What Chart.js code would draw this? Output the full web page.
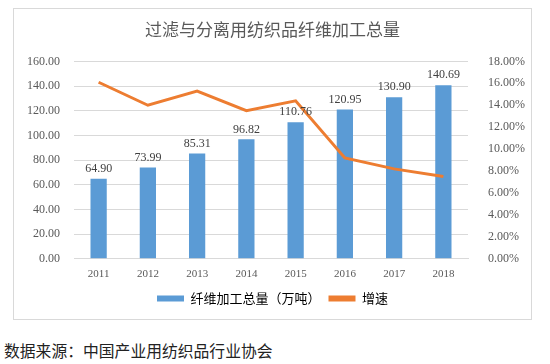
<!DOCTYPE html>
<html>
<head>
<meta charset="utf-8">
<script src="https://cdn.jsdelivr.net/npm/chart.js@4.4.1/dist/chart.umd.min.js"></script>
<style>
  body { margin: 0; background: #fff; width: 550px; height: 364px; position: relative; overflow: hidden; }
  #box { position: absolute; left: 13px; top: 8px; width: 517px; height: 310px; border: 1px solid #d9d9d9; }
  #source { position: absolute; left: 4px; top: 339px; font: 15.8px "Noto Sans CJK SC", sans-serif; color: #222; }
</style>
</head>
<body>
<div id="box"><canvas id="chart" width="517" height="310"></canvas></div>
<div id="source">数据来源：中国产业用纺织品行业协会</div>
<script>
// chart data
const years = ["2011", "2012", "2013", "2014", "2015", "2016", "2017", "2018"];
const volume = [64.90, 73.99, 85.31, 96.82, 110.76, 120.95, 130.90, 140.69];
const growth = [16.1, 14.0, 15.3, 13.5, 14.4, 9.2, 8.2, 7.5];

const serif = "'Liberation Serif', 'Times New Roman', serif";
const cjk = "'Noto Sans CJK SC', sans-serif";

// draws the value above each bar
const barLabels = {
  id: "barLabels",
  afterDatasetsDraw(chart) {
    const ctx = chart.ctx;
    const meta = chart.getDatasetMeta(1);
    ctx.save();
    ctx.font = "12px " + serif;
    ctx.fillStyle = "#404040";
    ctx.textAlign = "center";
    ctx.textBaseline = "bottom";
    meta.data.forEach((bar, i) => {
      ctx.fillText(volume[i].toFixed(2), bar.x, bar.y - 4);
    });
    ctx.restore();
  }
};

new Chart(document.getElementById("chart"), {
  data: {
    labels: years,
    datasets: [
      {
        type: "line",
        label: "增速",
        data: growth,
        yAxisID: "y2",
        borderColor: "#ED7D31",
        backgroundColor: "#ED7D31",
        borderWidth: 3,
        pointRadius: 0,
        tension: 0,
        order: 0
      },
      {
        type: "bar",
        label: "纤维加工总量（万吨）",
        data: volume,
        yAxisID: "y",
        backgroundColor: "#5B9BD5",
        categoryPercentage: 1,
        barPercentage: 0.33,
        order: 1
      }
    ]
  },
  options: {
    responsive: false,
    animation: false,
    layout: { padding: { left: 0, right: 0, top: 4, bottom: 4 } },
    plugins: {
      title: {
        display: true,
        text: "过滤与分离用纺织品纤维加工总量",
        color: "#595959",
        font: { family: cjk, size: 17, weight: "normal" },
        padding: { top: 6, bottom: 22 }
      },
      legend: {
        position: "bottom",
        labels: {
          color: "#595959",
          font: { family: cjk, size: 13 },
          boxWidth: 27,
          boxHeight: 6,
          padding: 8,
          generateLabels(chart) {
            return [
              { text: "纤维加工总量（万吨）", fillStyle: "#5B9BD5", strokeStyle: "#5B9BD5", lineWidth: 0, datasetIndex: 1 },
              { text: "增速", fillStyle: "#ED7D31", strokeStyle: "#ED7D31", lineWidth: 0, datasetIndex: 0 }
            ];
          }
        }
      },
      tooltip: { enabled: false }
    },
    scales: {
      x: {
        grid: { display: false },
        border: { color: "#d9d9d9" },
        ticks: { color: "#595959", font: { family: serif, size: 11 }, padding: 1 },
        afterFit(scale) { scale.height += 2; }
      },
      y: {
        position: "left",
        min: 0,
        max: 160,
        ticks: {
          stepSize: 20,
          color: "#595959",
          font: { family: serif, size: 12 },
          padding: 14,
          callback: v => v.toFixed(2)
        },
        grid: { color: "#d9d9d9", drawTicks: false },
        border: { display: false },
        afterFit(scale) { scale.width = 60; }
      },
      y2: {
        position: "right",
        min: 0,
        max: 18,
        ticks: {
          stepSize: 2,
          color: "#595959",
          font: { family: serif, size: 12 },
          padding: 20,
          callback: v => v.toFixed(2) + "%"
        },
        grid: { display: false, drawTicks: false },
        border: { display: false },
        afterFit(scale) { scale.width = 63; }
      }
    }
  },
  plugins: [barLabels]
});
</script>
</body>
</html>
